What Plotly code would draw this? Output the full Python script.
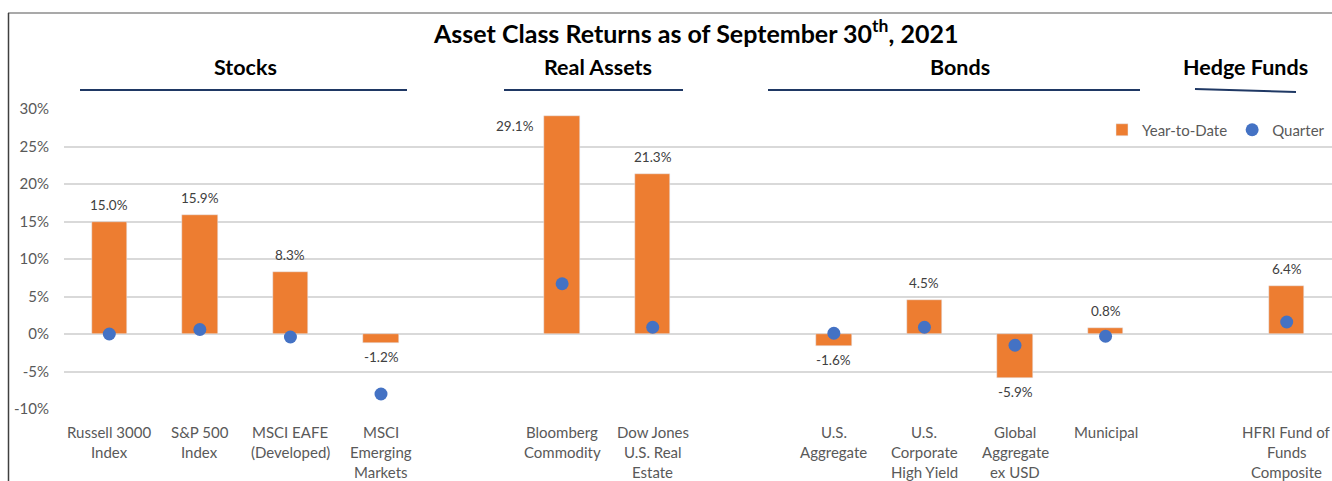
import plotly.graph_objects as go

categories = ["Russell 3000<br>Index", "S&P 500<br>Index", "MSCI EAFE<br>(Developed)", "MSCI<br>Emerging<br>Markets",
              "Bloomberg<br>Commodity", "Dow Jones<br>U.S. Real<br>Estate",
              "U.S.<br>Aggregate", "U.S.<br>Corporate<br>High Yield", "Global<br>Aggregate<br>ex USD", "Municipal",
              "HFRI Fund of<br>Funds<br>Composite"]
slots = [0, 1, 2, 3, 5, 6, 8, 9, 10, 11, 13]
ytd = [15.0, 15.9, 8.3, -1.2, 29.1, 21.3, -1.6, 4.5, -5.9, 0.8, 6.4]
quarter = [0.0, 0.6, -0.4, -8.0, 6.7, 0.9, 0.1, 0.9, -1.5, -0.3, 1.6]
groups = ["Stocks", "Real Assets", "Bonds", "Hedge Funds"]
y_ticks = [30, 25, 20, 15, 10, 5, 0, -5, -10]

FONT = "Lato"
ORANGE = "#ED7D31"
BLUE = "#4472C4"
NAVY = "#1F3864"

W, H = 1332, 481
L, R, T, B = 64, 0, 109, 72
pw = W - L - R
ph = H - T - B

def px_x(p):
    return (p - L) / pw

def px_y(p):
    return (H - B - p) / ph

fig = go.Figure()
fig.add_trace(go.Bar(x=slots, y=ytd, name="Year-to-Date", marker_color=ORANGE, width=0.39,
                     hoverinfo="skip"))
fig.add_trace(go.Scatter(x=slots, y=quarter, name="Quarter", mode="markers",
                         marker=dict(color=BLUE, size=13), hoverinfo="skip"))

annotations = []
imax = ytd.index(max(ytd))
for i, (s, v) in enumerate(zip(slots, ytd)):
    if i == imax:
        annotations.append(dict(x=s, y=v, xref="x", yref="y", text=f"{v:.1f}%", showarrow=False,
                                xshift=-47, yshift=-10, font=dict(family=FONT, size=13.5, color="#404040")))
    else:
        annotations.append(dict(x=s, y=v, xref="x", yref="y", text=f"{v:.1f}%", showarrow=False,
                                yshift=17 if v >= 0 else -14, font=dict(family=FONT, size=13.5, color="#404040")))

# category labels, one text per line for Excel-like line spacing
for s, c in zip(slots, categories):
    for k, line in enumerate(c.split("<br>")):
        annotations.append(dict(x=s, y=px_y(432 + 20 * k), xref="x", yref="paper", text=line,
                                showarrow=False, yanchor="middle", xanchor="center",
                                font=dict(family=FONT, size=15, color="#595959")))

annotations.append(dict(x=px_x(695), y=px_y(31), xref="paper", yref="paper", showarrow=False,
                        yanchor="middle", xanchor="center",
                        text="<b>Asset Class Returns as of September 30<sup>th</sup>, 2021</b>",
                        font=dict(family=FONT, size=25, color="#000000")))
group_pos = [245, 598, 960, 1245]
for g, p in zip(groups, group_pos):
    annotations.append(dict(x=px_x(p), y=px_y(67), xref="paper", yref="paper", showarrow=False,
                            yanchor="middle", xanchor="center",
                            text=f"<b>{g}</b>", font=dict(family=FONT, size=21.5, color="#000000")))

shapes = []
for (x0, x1, y0, y1) in [(80, 407, 90, 90), (504, 683, 90, 90), (768, 1140, 90, 90), (1195, 1296, 89, 92)]:
    shapes.append(dict(type="line", xref="paper", yref="paper", x0=px_x(x0), x1=px_x(x1),
                       y0=px_y(y0), y1=px_y(y1), line=dict(color=NAVY, width=2)))
shapes.append(dict(type="line", xref="paper", yref="paper", x0=px_x(8), x1=px_x(1332),
                   y0=px_y(13), y1=px_y(13), line=dict(color="#8C8C8C", width=1.5)))
shapes.append(dict(type="line", xref="paper", yref="paper", x0=px_x(8.5), x1=px_x(8.5),
                   y0=px_y(13), y1=px_y(482), line=dict(color="#404040", width=1.5)))

fig.update_layout(
    width=W, height=H,
    margin=dict(l=L, r=R, t=T, b=B),
    paper_bgcolor="white", plot_bgcolor="white",
    font=dict(family=FONT, color="#595959"),
    showlegend=True,
    legend=dict(orientation="h", x=px_x(1330), xanchor="right", y=px_y(130), yanchor="middle",
                font=dict(family=FONT, size=15, color="#595959"), bgcolor="rgba(0,0,0,0)",
                itemwidth=30, traceorder="normal"),
    annotations=annotations,
    shapes=shapes,
    bargap=0,
)
fig.update_xaxes(range=[-0.5, 13.5], tickvals=slots, showticklabels=False, showgrid=False,
                 zeroline=False, showline=False, ticks="")
fig.update_yaxes(range=[-10, 30], tickvals=y_ticks, ticktext=[f"{t}%" for t in y_ticks],
                 showgrid=True, gridcolor="#D9D9D9", gridwidth=1.5, zeroline=True,
                 zerolinecolor="#D9D9D9", zerolinewidth=1.5, showline=False, ticks="",
                 ticklabelstandoff=14,
                 tickfont=dict(family=FONT, size=15, color="#595959"))

fig.write_html("out.html", config={"displayModeBar": False},
               post_script="document.body.style.margin='0';document.body.style.overflow='hidden';")
